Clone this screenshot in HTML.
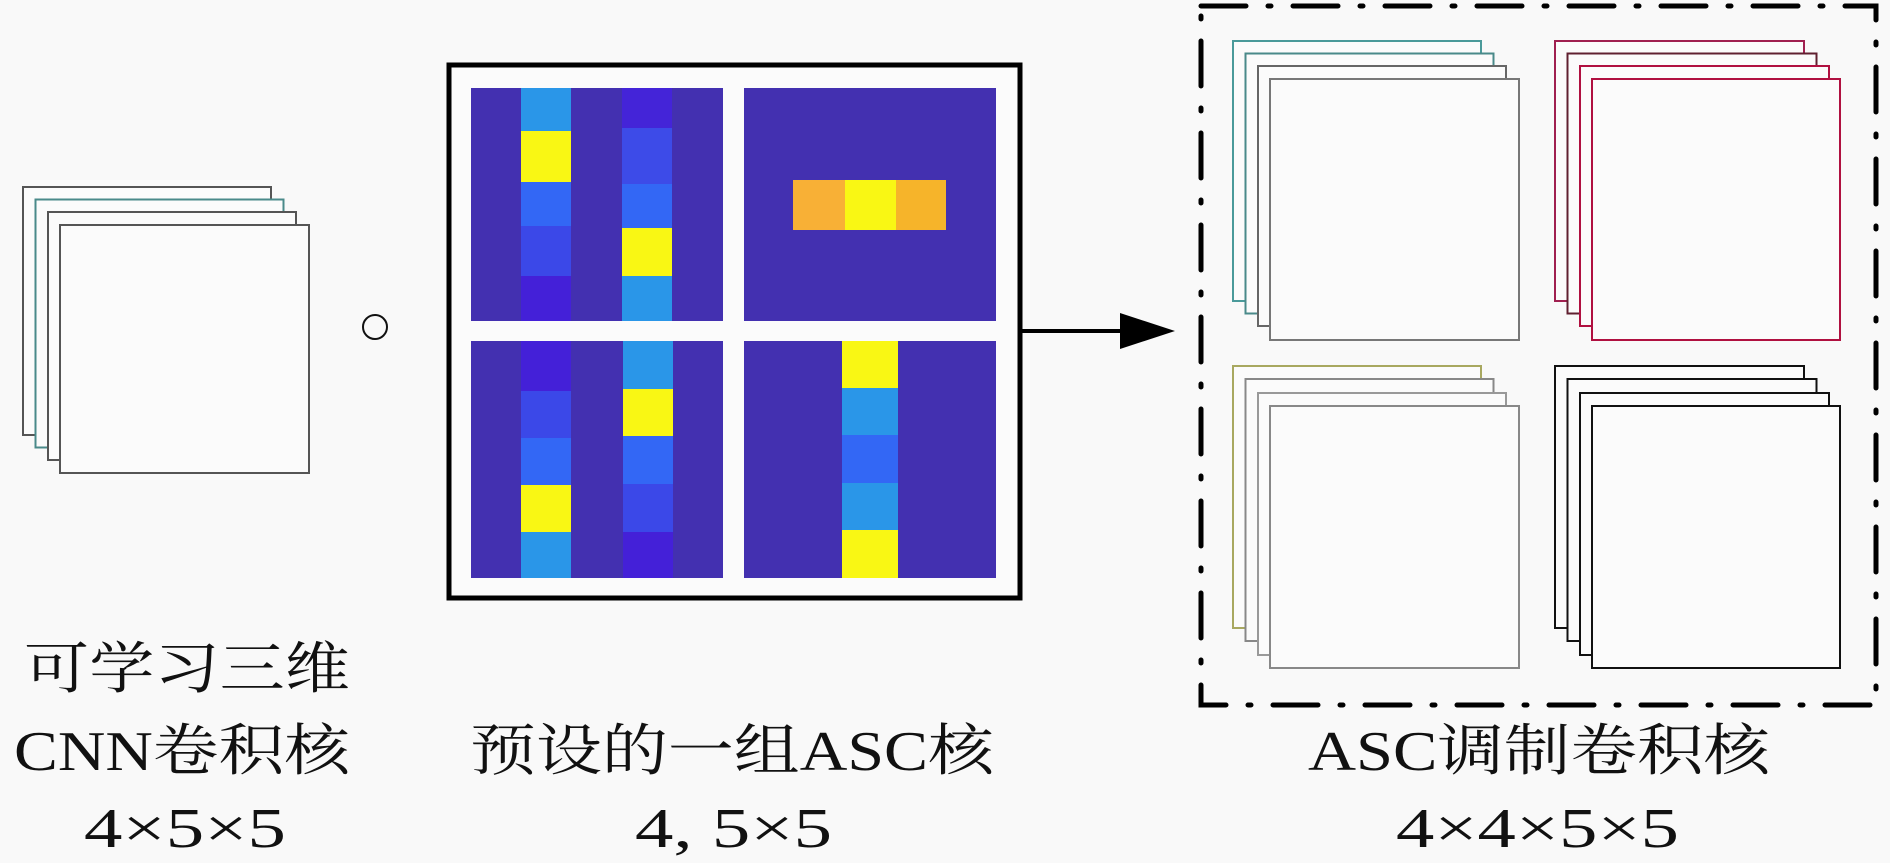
<!DOCTYPE html>
<html><head><meta charset="utf-8"><style>
html,body{margin:0;padding:0;background:#f9f9f9;}
svg{display:block}
text{font-family:"Liberation Serif","Noto Serif CJK SC",serif;font-size:56px;fill:#111}
</style></head><body>
<svg width="1890" height="863" viewBox="0 0 1890 863" xmlns="http://www.w3.org/2000/svg">
<rect width="1890" height="863" fill="#f9f9f9"/>
<!-- left stack -->
<g fill="#fbfbfb" stroke="#555" stroke-width="2">
<rect x="23" y="187" width="248" height="248"/>
<rect x="35.5" y="199.5" width="248" height="248" stroke="#4a8a8a"/>
<rect x="48" y="212" width="248" height="248"/>
<rect x="60" y="225" width="249" height="248"/>
</g>
<ellipse cx="375" cy="327" rx="12" ry="12" fill="none" stroke="#111" stroke-width="2"/>
<!-- center frame -->
<rect x="449" y="65" width="571" height="533" fill="#fbfbfb" stroke="#000" stroke-width="5"/>
<!-- panels -->
<g id="p">
<rect x="471" y="88" width="252" height="233" fill="#4330b0"/>
<rect x="744" y="88" width="252" height="233" fill="#4330b0"/>
<rect x="471" y="341" width="252" height="237" fill="#4330b0"/>
<rect x="744" y="341" width="252" height="237" fill="#4330b0"/>
</g>
<!-- TL panel col1 -->
<rect x="521" y="88" width="50" height="43" fill="#2a96e8"/>
<rect x="521" y="131" width="50" height="51" fill="#f9f714"/>
<rect x="521" y="182" width="50" height="44" fill="#3367f5"/>
<rect x="521" y="226" width="50" height="50" fill="#3b48e8"/>
<rect x="521" y="276" width="50" height="45" fill="#4420d8"/>
<!-- TL col3 -->
<rect x="622" y="88" width="50" height="40" fill="#4424d8"/>
<rect x="622" y="128" width="50" height="56" fill="#3d4be8"/>
<rect x="622" y="184" width="50" height="44" fill="#3367f5"/>
<rect x="622" y="228" width="50" height="48" fill="#f9f714"/>
<rect x="622" y="276" width="50" height="45" fill="#2a96e8"/>
<!-- TR row -->
<rect x="793" y="180" width="52" height="50" fill="#f8b036"/>
<rect x="845" y="180" width="51" height="50" fill="#f9f714"/>
<rect x="896" y="180" width="50" height="50" fill="#f6b42a"/>
<!-- BL col1 -->
<rect x="521" y="341" width="50" height="50" fill="#4420d8"/>
<rect x="521" y="391" width="50" height="47" fill="#3b48e8"/>
<rect x="521" y="438" width="50" height="47" fill="#3367f5"/>
<rect x="521" y="485" width="50" height="47" fill="#f9f714"/>
<rect x="521" y="532" width="50" height="46" fill="#2a96e8"/>
<!-- BL col3 -->
<rect x="623" y="341" width="50" height="48" fill="#2a96e8"/>
<rect x="623" y="389" width="50" height="47" fill="#f9f714"/>
<rect x="623" y="436" width="50" height="48" fill="#3367f5"/>
<rect x="623" y="484" width="50" height="48" fill="#3b48e8"/>
<rect x="623" y="532" width="50" height="46" fill="#4420d8"/>
<!-- BR col2 -->
<rect x="842" y="341" width="56" height="47" fill="#f9f714"/>
<rect x="842" y="388" width="56" height="47" fill="#2a96e8"/>
<rect x="842" y="435" width="56" height="48" fill="#3367f5"/>
<rect x="842" y="483" width="56" height="47" fill="#2a96e8"/>
<rect x="842" y="530" width="56" height="48" fill="#f9f714"/>
<!-- arrow -->
<line x1="1020" y1="331" x2="1125" y2="331" stroke="#000" stroke-width="4"/>
<polygon points="1120,313 1175,331 1120,349" fill="#000"/>
<!-- dashed box -->
<rect x="1201" y="6" width="675" height="699" fill="none" stroke="#000" stroke-width="5" stroke-dasharray="45,22,3,22" stroke-linecap="round"/>
<!-- TL quad -->
<g fill="#fbfbfb" stroke-width="2">
<rect x="1233" y="41" width="248" height="260" stroke="#4a9a9a"/>
<rect x="1245.5" y="53.5" width="248" height="260" stroke="#4a8a8a"/>
<rect x="1258" y="66" width="248" height="260" stroke="#666"/>
<rect x="1270" y="79" width="249" height="261" stroke="#777"/>
<!-- TR -->
<rect x="1555" y="41" width="249" height="260" stroke="#a02050"/>
<rect x="1567.5" y="53.5" width="249" height="260" stroke="#602030"/>
<rect x="1580" y="66" width="249" height="260" stroke="#b01040"/>
<rect x="1592" y="79" width="248" height="261" stroke="#b01040"/>
<!-- BL -->
<rect x="1233" y="366" width="248" height="262" stroke="#a8a860"/>
<rect x="1245.5" y="379" width="248" height="262" stroke="#888"/>
<rect x="1258" y="393" width="248" height="262" stroke="#999"/>
<rect x="1270" y="406" width="249" height="262" stroke="#888"/>
<!-- BR -->
<rect x="1555" y="366" width="249" height="262" stroke="#111"/>
<rect x="1567.5" y="379" width="249" height="262" stroke="#111"/>
<rect x="1580" y="393" width="249" height="262" stroke="#111"/>
<rect x="1592" y="406" width="248" height="262" stroke="#111"/>
</g>
<!-- text -->
<text x="24" y="688" textLength="326" lengthAdjust="spacingAndGlyphs">可学习三维</text>
<text x="14" y="770" textLength="336" lengthAdjust="spacingAndGlyphs">CNN卷积核</text>
<text x="84" y="847" textLength="202" lengthAdjust="spacingAndGlyphs">4×5×5</text>
<text x="470" y="770" textLength="524" lengthAdjust="spacingAndGlyphs">预设的一组ASC核</text>
<text x="635" y="847" textLength="197" lengthAdjust="spacingAndGlyphs">4, 5×5</text>
<text x="1308" y="770" textLength="462" lengthAdjust="spacingAndGlyphs">ASC调制卷积核</text>
<text x="1396" y="847" textLength="283" lengthAdjust="spacingAndGlyphs">4×4×5×5</text>
</svg>
</body></html>
